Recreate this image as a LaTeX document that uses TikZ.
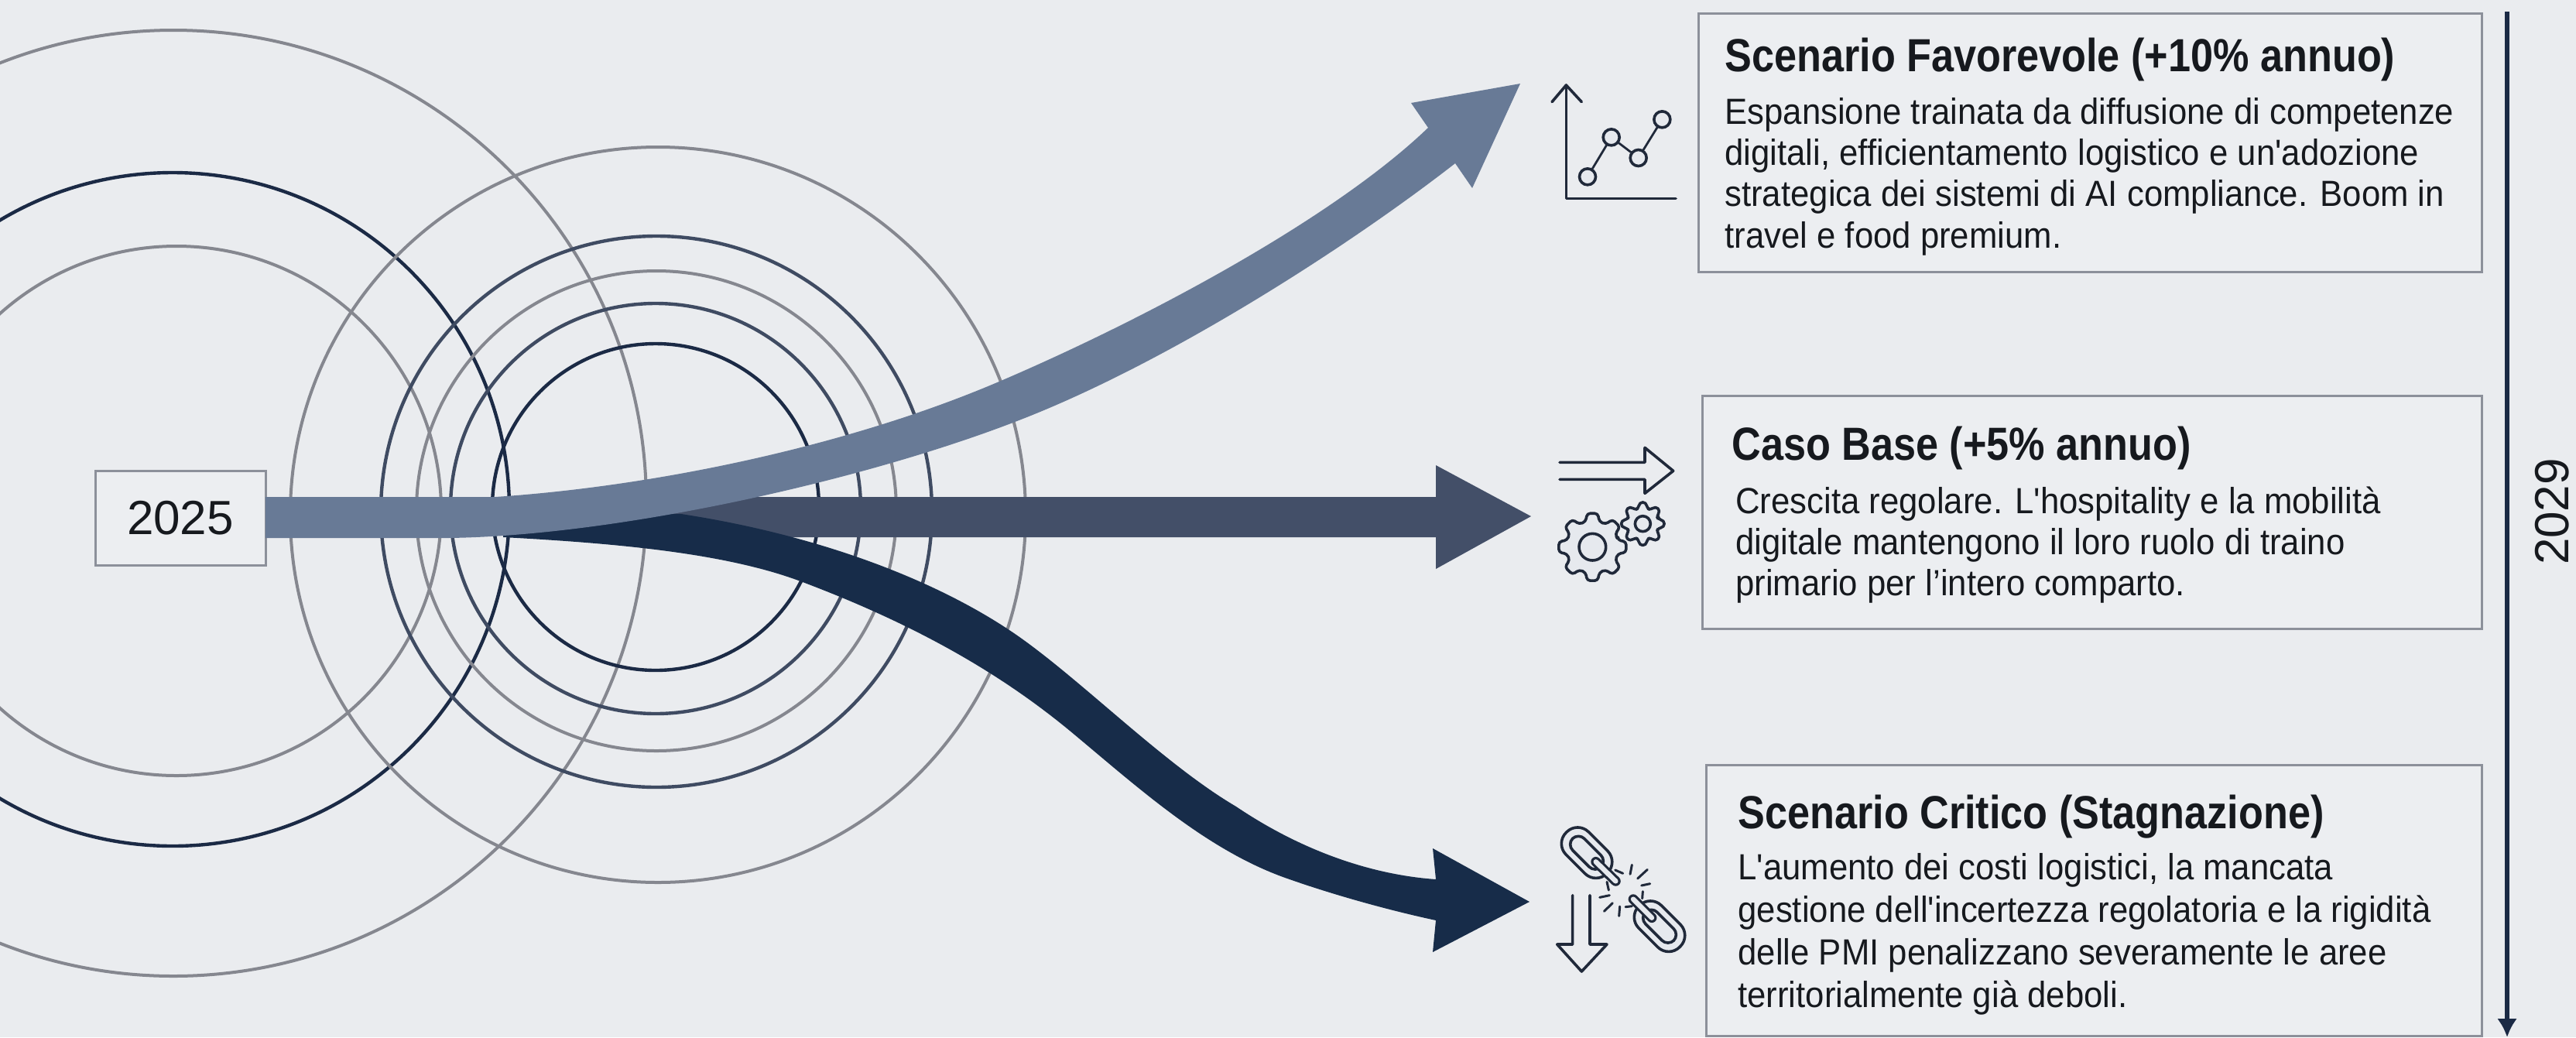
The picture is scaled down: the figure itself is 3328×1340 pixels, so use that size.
\documentclass[tikz,border=0pt]{standalone}
\usepackage{fontspec}
\usetikzlibrary{arrows.meta,calc}
\setmainfont{Liberation Sans}
\newfontfamily\titlefont[FakeStretch=0.87]{Liberation Sans Bold}
\newfontfamily\bodyfont[FakeStretch=0.93]{Liberation Sans}
\definecolor{bgc}{HTML}{EAECEF}
\definecolor{boxfill}{HTML}{ECEEF1}
\definecolor{boxline}{HTML}{8C909A}
\definecolor{inkc}{HTML}{16191E}
\definecolor{ringgray}{HTML}{85878F}
\definecolor{ringmid}{HTML}{3F4B62}
\definecolor{ringdark}{HTML}{1B2A45}
\definecolor{arrowone}{HTML}{687A96}
\definecolor{arrowtwo}{HTML}{434F68}
\definecolor{arrowthree}{HTML}{172C49}
\definecolor{iconfill}{HTML}{E6E9EE}
\definecolor{iconink}{HTML}{20293A}
\tikzset{
  ringg/.style={draw=ringgray,line width=2pt},
  ringm/.style={draw=ringmid,line width=2.2pt},
  ringd/.style={draw=ringdark,line width=2.2pt},
  cardbox/.style={draw=boxline,fill=boxfill,line width=1.5pt,inner sep=0pt,anchor=north west},
  cardtitle/.style={anchor=base west,inner sep=0pt,text=inkc,font=\titlefont\fontsize{30}{36}\selectfont},
  cardbody/.style={anchor=base west,inner sep=0pt,text=inkc,font=\bodyfont\fontsize{23.5}{26.7}\selectfont},
  iconline/.style={draw=iconink,line width=1.8pt,line join=round,line cap=round},
  dotnode/.style={circle,draw=iconink,line width=1.8pt,fill=iconfill,minimum size=10.5pt,inner sep=0pt},
}
\newcommand{\gearshape}[5]{%
  \begin{scope}[shift={(#1,#2)}]
    \draw[iconline,fill=iconfill,rounded corners=2pt] (-15:#4)
      \foreach \a in {0,45,...,315} { -- (\a-15:#4) -- (\a-9:#3) -- (\a+9:#3) -- (\a+15:#4) } -- cycle;
    \draw[iconline] (0,0) circle[radius=#5];
  \end{scope}}
\newcommand{\linkshape}[2]{%
  \begin{scope}[rotate around={-45:(#1,#2)}]
    \draw[iconline,fill=iconfill,rounded corners=10pt] (#1-112,#2-62) rectangle (#1+112,#2+62);
    \draw[iconline,fill=iconfill,rounded corners=5.5pt] (#1-78,#2-32) rectangle (#1+78,#2+32);
  \end{scope}}
\begin{document}
\begin{tikzpicture}[x=0.5pt,y=-0.5pt]
\useasboundingbox (0,0) rectangle (3328,1340);
\clip (0,0) rectangle (3328,1340);
\fill[bgc] (0,0) rectangle (3328,1340);

% left rings
\draw[ringg] (224,650) circle[radius=611];
\draw[ringd] (223,658) circle[radius=435];
\draw[ringg] (228,660) circle[radius=342];
% right rings
\draw[ringg] (850,665) circle[radius=475];
\draw[ringm] (848,661) circle[radius=356];
\draw[ringg] (848,660) circle[radius=310];
\draw[ringm] (847,657) circle[radius=265];
\draw[ringd] (847,655) circle[radius=211];

% start box
\node[cardbox,minimum width=110pt,minimum height=61pt,text=inkc,font=\fontsize{31}{36}\selectfont,anchor=center] (start) at (233,669) {2025};

% middle arrow
\fill[arrowtwo] (700,642) -- (1855,642) -- (1855,601) -- (1978,667) -- (1855,735) -- (1855,694) -- (700,694) -- cycle;

% lower arrow
\fill[arrowthree] (650,694) -- (650,660) -- (880,664)
  .. controls (1050,690) and (1200,745) .. (1304,814)
  .. controls (1390,871) and (1500,985) .. (1597,1042)
  .. controls (1680,1098) and (1770,1130) .. (1855,1136)
  -- (1851,1096) -- (1976,1165) -- (1851,1230) -- (1855,1189)
  .. controls (1790,1175) and (1720,1155) .. (1666,1136)
  .. controls (1560,1100) and (1470,1017) .. (1382,944)
  .. controls (1290,868) and (1180,806) .. (1037,752)
  .. controls (940,715) and (800,702) .. (650,694)
  -- cycle;

% upper arrow
\fill[arrowone] (343,642) -- (640,642)
  .. controls (850,628) and (1100,575) .. (1293,492)
  .. controls (1473,415) and (1720,285) .. (1845,165)
  -- (1823,133) -- (1964,108) -- (1902,243) -- (1880,211)
  .. controls (1740,320) and (1509,468) .. (1319,542)
  .. controls (1120,620) and (800,692) .. (580,695)
  -- (343,695) -- cycle;

% timeline
\coordinate (tlstart) at (3239,15);
\coordinate (tlend) at (3239,1340);
\draw[ringdark,line width=3pt,-{Latex[length=12pt,width=13pt]}] (tlstart) -- (tlend);
\node[rotate=90,text=inkc,font=\fontsize{31}{36}\selectfont,inner sep=0pt] (endyear) at (3297,661) {2029};

% cards
\node[cardbox,minimum width=506pt,minimum height=167pt] (cardA) at (2193,16) {};
\node[cardbox,minimum width=503.5pt,minimum height=150.5pt] (cardB) at (2198,510) {};
\node[cardbox,minimum width=501pt,minimum height=175pt] (cardC) at (2203,987) {};

\node[cardtitle] (titleA) at (2228,92) {Scenario Favorevole (+10\% annuo)};
\node[cardbody] (bodyA) at (2228,160) {\vtop{\baselineskip=26.7pt\hbox{Espansione trainata da diffusione di competenze}\hbox{digitali, efficientamento logistico e un'adozione}\hbox{strategica dei sistemi di AI compliance. Boom in}\hbox{travel e food premium.}}};

\node[cardtitle] (titleB) at (2237,594) {Caso Base (+5\% annuo)};
\node[cardbody] (bodyB) at (2242,663) {\vtop{\baselineskip=26.7pt\hbox{Crescita regolare. L'hospitality e la mobilità}\hbox{digitale mantengono il loro ruolo di traino}\hbox{primario per l’intero comparto.}}};

\node[cardtitle] (titleC) at (2245,1070) {Scenario Critico (Stagnazione)};
\node[cardbody] (bodyC) at (2245,1136) {\vtop{\baselineskip=27.5pt\hbox{L'aumento dei costi logistici, la mancata}\hbox{gestione dell'incertezza regolatoria e la rigidità}\hbox{delle PMI penalizzano severamente le aree}\hbox{territorialmente già deboli.}}};

% chart icon
\begin{scope}[shift={(1950,60)},x=0.16667pt,y=-0.16667pt]
  \draw[iconline] (165,215) -- (220,150) -- (280,215);
  \draw[iconline] (220,150) -- (220,590) -- (645,590);
  \node[dotnode] (p1) at (303,505) {};
  \node[dotnode] (p2) at (395,352) {};
  \node[dotnode] (p3) at (500,432) {};
  \node[dotnode] (p4) at (592,283) {};
  \draw[iconline,line width=1.4pt] (p1) -- (p2);
  \draw[iconline,line width=1.4pt] (p2) -- (p3);
  \draw[iconline,line width=1.4pt] (p3) -- (p4);
\end{scope}

% arrow and gears icon
\begin{scope}[shift={(1950,540)},x=0.16667pt,y=-0.16667pt]
  \draw[iconline] (195,172) -- (525,172) -- (525,115) -- (635,205) -- (525,292) -- (525,238) -- (195,238);
  \gearshape{322}{500}{132}{102}{52}
  \gearshape{517}{410}{84}{62}{30}
\end{scope}

% broken chain and down arrow icon
\begin{scope}[shift={(1950,1040)},x=0.16667pt,y=-0.16667pt]
  \draw[iconline] (245,350) -- (245,540) -- (185,540) -- (280,645) -- (378,540) -- (312,540) -- (312,350);
  \linkshape{300}{185}
  \linkshape{582}{470}
  \draw[iconink,line width=6.4pt,line cap=round] (335,220) -- (412,295);
  \draw[iconfill,line width=3.2pt,line cap=round] (335,220) -- (412,295);
  \draw[iconink,line width=6.4pt,line cap=round] (480,365) -- (552,437);
  \draw[iconfill,line width=3.2pt,line cap=round] (480,365) -- (552,437);
  \foreach \xa/\ya/\xb/\yb in {475/232/468/268,535/250/497/285,545/305/512/312,517/335/515/362,475/392/450/395,428/393/425/430,400/380/367/412,388/350/350/358,385/330/378/298,440/265/410/252}
    \draw[iconline,line width=1.5pt] (\xa,\ya) -- (\xb,\yb);
\end{scope}
\end{tikzpicture}
\end{document}
